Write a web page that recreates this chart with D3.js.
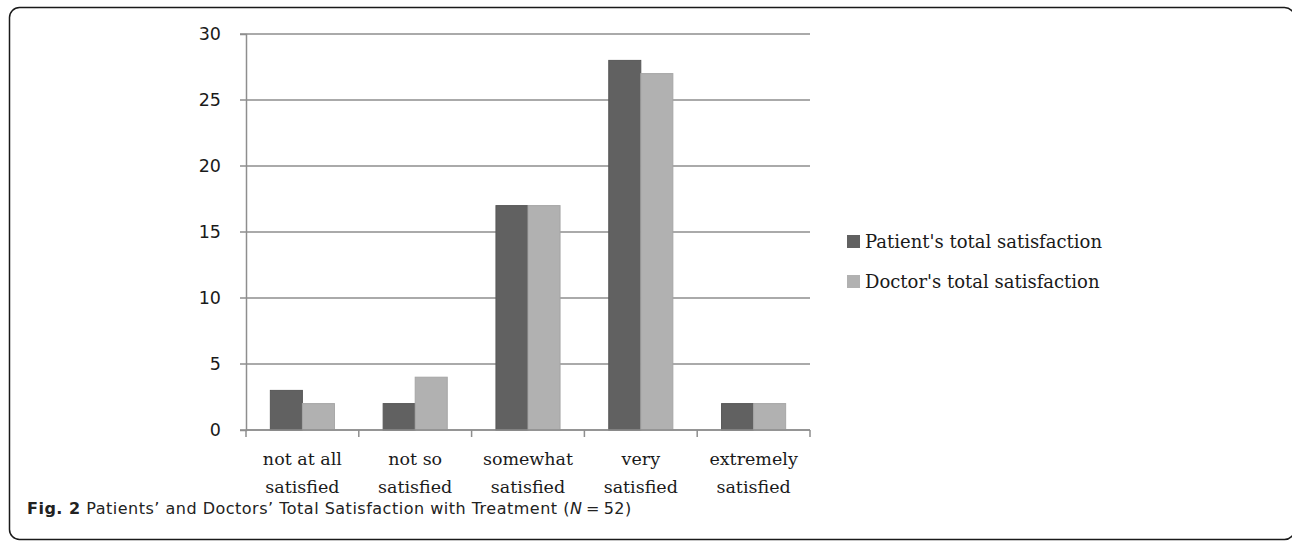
<!DOCTYPE html>
<html lang="en">
<head>
    <meta charset="UTF-8">
    <title>Patients' and Doctors' Total Satisfaction</title>
    <script src="https://cdnjs.cloudflare.com/ajax/libs/d3/7.8.5/d3.min.js"></script>
    <style>
        body { margin: 0; background: #ffffff; overflow: hidden; }
        svg { display: block; }
    </style>
</head>
<body>
    <div id="chart"></div>
    <script>
        const categories = [
            ["not at all", "satisfied"],
            ["not so", "satisfied"],
            ["somewhat", "satisfied"],
            ["very", "satisfied"],
            ["extremely", "satisfied"]
        ];
        const seriesNames = ["Patient's total satisfaction", "Doctor's total satisfaction"];
        const patientValues = [3, 2, 17, 28, 2];
        const doctorValues = [2, 4, 17, 27, 2];
        const yTicks = [0, 5, 10, 15, 20, 25, 30];

        const colors = ["#616161", "#b1b1b1"];
        const W = 1292, H = 542;

        const svg = d3.select("#chart")
            .append("svg")
            .attr("width", W)
            .attr("height", H);

        // frame with rounded corners (right edge sits just past the window)
        svg.append("rect")
            .attr("x", 9.5)
            .attr("y", 7.5)
            .attr("width", 1285)
            .attr("height", 532)
            .attr("rx", 10)
            .attr("fill", "none")
            .attr("stroke", "#1a1a1a")
            .attr("stroke-width", 1.5);

        const x0 = d3.scaleBand()
            .domain(d3.range(categories.length))
            .range([246, 810])
            .paddingInner(0)
            .paddingOuter(0);

        const x1 = d3.scaleBand()
            .domain([0, 1])
            .range([0, x0.bandwidth()])
            .paddingInner(0)
            .paddingOuter(0.76);

        const y = d3.scaleLinear().domain([0, 30]).range([430, 34]);

        // gridlines
        svg.append("g")
            .selectAll("line")
            .data(yTicks)
            .enter().append("line")
            .attr("x1", 240)
            .attr("x2", 810)
            .attr("y1", d => y(d))
            .attr("y2", d => y(d))
            .attr("stroke", "#8e8e8e")
            .attr("stroke-width", 1.5);

        const data = categories.map((c, i) => [patientValues[i], doctorValues[i]]);

        svg.append("g")
            .selectAll("g")
            .data(data)
            .enter().append("g")
            .attr("transform", (d, i) => `translate(${x0(i)},0)`)
            .selectAll("rect")
            .data(d => d)
            .enter().append("rect")
            .attr("x", (d, j) => x1(j))
            .attr("y", d => y(d))
            .attr("width", x1.bandwidth())
            .attr("height", d => y(0) - y(d))
            .attr("fill", (d, j) => colors[j])
            .attr("stroke", (d, j) => j === 0 ? "#575757" : "#a6a6a6")
            .attr("stroke-width", 1);

        // y axis
        const yAxis = svg.append("g")
            .attr("transform", "translate(246,0)")
            .call(d3.axisLeft(y).tickValues(yTicks).tickSize(6).tickPadding(19));
        yAxis.select(".domain").attr("stroke", "#8e8e8e").attr("stroke-width", 1.5);
        yAxis.selectAll(".tick line").remove();
        yAxis.selectAll("text")
            .attr("font-family", "'DejaVu Sans', sans-serif")
            .attr("font-size", 17.5)
            .attr("fill", "#1a1a1a");

        // x axis
        const xAxis = svg.append("g")
            .attr("transform", `translate(0,${y(0)})`);
        xAxis.append("line")
            .attr("x1", 246).attr("x2", 810)
            .attr("stroke", "#8e8e8e").attr("stroke-width", 1.5);
        xAxis.selectAll(".xt")
            .data(d3.range(categories.length + 1))
            .enter().append("line")
            .attr("class", "xt")
            .attr("x1", i => i === categories.length ? x0.range()[1] : x0(i))
            .attr("x2", i => i === categories.length ? x0.range()[1] : x0(i))
            .attr("y1", 0).attr("y2", 7)
            .attr("stroke", "#8e8e8e").attr("stroke-width", 1.5);

        const xLabels = xAxis.selectAll(".xl")
            .data(categories)
            .enter().append("text")
            .attr("class", "xl")
            .attr("x", (d, i) => x0(i) + x0.bandwidth() / 2)
            .attr("text-anchor", "middle")
            .attr("font-family", "'DejaVu Serif', serif")
            .attr("font-size", 17.5)
            .attr("fill", "#1a1a1a");
        xLabels.append("tspan").attr("y", 35).text(d => d[0]);
        xLabels.append("tspan")
            .attr("x", (d, i) => x0(i) + x0.bandwidth() / 2)
            .attr("y", 63).text(d => d[1]);

        // legend
        const legend = svg.append("g")
            .selectAll("g")
            .data(seriesNames)
            .enter().append("g")
            .attr("transform", (d, i) => `translate(847,${235 + i * 40})`);
        legend.append("rect")
            .attr("width", 13)
            .attr("height", 13)
            .attr("fill", (d, i) => colors[i]);
        legend.append("text")
            .attr("x", 18)
            .attr("y", 13)
            .attr("font-family", "'DejaVu Serif', serif")
            .attr("font-size", 18)
            .attr("fill", "#1a1a1a")
            .text(d => d);

        // caption
        const caption = svg.append("text")
            .attr("x", 27)
            .attr("y", 514)
            .attr("font-family", "'DejaVu Sans', sans-serif")
            .attr("font-size", 16)
            .attr("letter-spacing", 0.5)
            .attr("fill", "#222");
        caption.append("tspan").attr("font-weight", "bold").text("Fig. 2");
        caption.append("tspan").text(" Patients\u2019 and Doctors\u2019 Total Satisfaction with Treatment (");
        caption.append("tspan").attr("font-style", "italic").text("N");
        caption.append("tspan").text("\u2009=\u200952)");
    </script>
</body>
</html>
